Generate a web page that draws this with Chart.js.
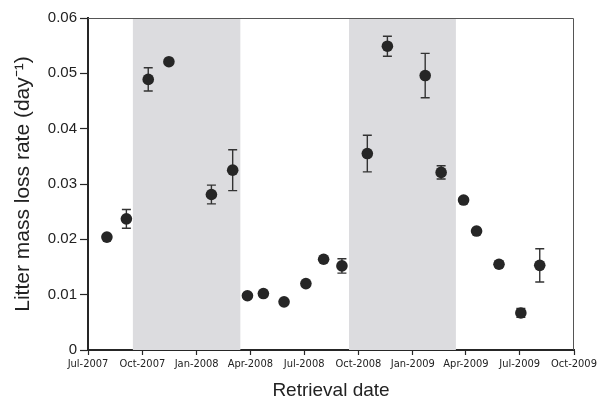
<!DOCTYPE html>
<html>
<head>
<meta charset="utf-8">
<script src="https://cdn.jsdelivr.net/npm/chart.js@4/dist/chart.umd.min.js"></script>
<style>
  html, body { margin: 0; padding: 0; background: #fff; }
  #wrap { width: 598px; height: 402px; }
</style>
</head>
<body>
<div id="wrap"><canvas id="chart-litter" width="598" height="402"></canvas></div>
<script>
/* litter mass loss rate by retrieval date, with seasonal shading */

const RETRIEVAL_DATES = [
  "2007-08-02", "2007-09-04", "2007-10-11", "2007-11-15", "2008-01-26", "2008-03-02",
  "2008-03-27", "2008-04-23", "2008-05-28", "2008-07-04", "2008-08-03", "2008-09-03",
  "2008-10-16", "2008-11-19", "2009-01-22", "2009-02-18", "2009-03-28", "2009-04-19",
  "2009-05-27", "2009-07-03", "2009-08-04",
];
const LOSS_RATE = [
  0.0204, 0.0237, 0.0489, 0.0521, 0.0281, 0.0325,
  0.0098, 0.0102, 0.0087, 0.0120, 0.0164, 0.0152,
  0.0355, 0.0549, 0.0496, 0.0321, 0.0271, 0.0215,
  0.0155, 0.0067, 0.0153,
];
const LOSS_ERR = [
  0.0003, 0.0017, 0.0021, 0.0003, 0.0017, 0.0037,
  0.0003, 0.0003, 0.0003, 0.0003, 0.0004, 0.0013,
  0.0033, 0.0018, 0.0040, 0.0012, 0.0004, 0.0003,
  0.0005, 0.0008, 0.0030,
];
const SHADED_PERIODS = [["2007-09-15", "2008-03-15"], ["2008-09-15", "2009-03-15"]];
const TICK_DATES = [
  "2007-07-01", "2007-10-01", "2008-01-01", "2008-04-01", "2008-07-01",
  "2008-10-01", "2009-01-01", "2009-04-01", "2009-07-01", "2009-10-01",
];
const TICK_LABELS = [
  "Jul-2007", "Oct-2007", "Jan-2008", "Apr-2008", "Jul-2008",
  "Oct-2008", "Jan-2009", "Apr-2009", "Jul-2009", "Oct-2009",
];

const dayNum = (s) => Date.parse(s + "T00:00:00Z") / 86400000;
const INK = "#262626";
const FONT = "'Liberation Sans', Arial, sans-serif";
const NARROW = "'DejaVu Sans Condensed', 'Liberation Sans', Arial, sans-serif";

// grey bands behind the points
const shadePlugin = {
  id: "shade",
  beforeDatasetsDraw(chart) {
    const { ctx, chartArea: a, scales: { x } } = chart;
    ctx.save();
    ctx.fillStyle = "#dcdcdf";
    SHADED_PERIODS.forEach(([s, e]) => {
      const x0 = x.getPixelForValue(dayNum(s));
      const x1 = x.getPixelForValue(dayNum(e));
      ctx.fillRect(x0, a.top, x1 - x0, a.bottom - a.top);
    });
    ctx.restore();
  },
};

// +/- error bars with caps
const errorBarPlugin = {
  id: "errbars",
  beforeDatasetsDraw(chart) {
    const { ctx, scales: { x, y } } = chart;
    ctx.save();
    ctx.strokeStyle = "#333";
    ctx.lineWidth = 1.4;
    RETRIEVAL_DATES.forEach((d, i) => {
      const px = x.getPixelForValue(dayNum(d));
      const top = y.getPixelForValue(LOSS_RATE[i] + LOSS_ERR[i]);
      const bot = y.getPixelForValue(LOSS_RATE[i] - LOSS_ERR[i]);
      ctx.beginPath();
      ctx.moveTo(px, top); ctx.lineTo(px, bot);
      ctx.moveTo(px - 4.5, top); ctx.lineTo(px + 4.5, top);
      ctx.moveTo(px - 4.5, bot); ctx.lineTo(px + 4.5, bot);
      ctx.stroke();
    });
    ctx.restore();
  },
};

// box round the plot: thin top and right edges
const framePlugin = {
  id: "frame",
  afterDatasetsDraw(chart) {
    const { ctx, chartArea: a } = chart;
    ctx.save();
    ctx.strokeStyle = "#555";
    ctx.lineWidth = 1;
    ctx.beginPath();
    ctx.moveTo(a.left, a.top + 0.5); ctx.lineTo(a.right - 0.5, a.top + 0.5); ctx.lineTo(a.right - 0.5, a.bottom);
    ctx.stroke();
    ctx.restore();
  },
};

new Chart(document.getElementById("chart-litter"), {
  type: "scatter",
  data: {
    datasets: [{
      data: RETRIEVAL_DATES.map((d, i) => ({ x: dayNum(d), y: LOSS_RATE[i] })),
      backgroundColor: INK, borderColor: INK, pointRadius: 5.8, pointHoverRadius: 5.8, borderWidth: 0,
    }],
  },
  options: {
    responsive: false, animation: false, devicePixelRatio: 1,
    layout: { padding: { top: 18, right: 24, left: 0, bottom: 0 } },
    plugins: { legend: { display: false }, tooltip: { enabled: false } },
    scales: {
      x: {
        type: "linear", min: dayNum(TICK_DATES[0]), max: dayNum(TICK_DATES[TICK_DATES.length - 1]),
        afterBuildTicks: (s) => { s.ticks = TICK_DATES.map((d) => ({ value: dayNum(d) })); },
        afterFit: (s) => { s.height = 52; s.paddingLeft = 0; s.paddingRight = 0; },
        border: { color: INK, width: 2 },
        grid: { drawOnChartArea: false, tickLength: 5, color: INK, tickWidth: 1.2 },
        ticks: {
          autoSkip: false, maxRotation: 0, padding: 3, color: "#222",
          font: { family: NARROW, size: 11 },
          callback: (v, i) => TICK_LABELS[i],
        },
        title: { display: true, text: "Retrieval date", color: "#222", font: { family: FONT, size: 19 }, padding: { top: 2, bottom: 0 } },
      },
      y: {
        min: 0, max: 0.06,
        afterBuildTicks: (s) => { s.ticks = [0, 0.01, 0.02, 0.03, 0.04, 0.05, 0.06].map((v) => ({ value: v })); },
        afterFit: (s) => { s.width = 88; },
        border: { color: INK, width: 2 },
        grid: { drawOnChartArea: false, tickLength: 8, color: INK, tickWidth: 1.2 },
        ticks: {
          padding: 3, color: "#222", font: { family: FONT, size: 15 },
          callback: (v) => (v === 0 ? "0" : v.toFixed(2)),
        },
        title: { display: true, text: "Litter mass loss rate (day⁻¹)", color: "#222", font: { family: FONT, size: 21 }, padding: { top: 11, bottom: 0 } },
      },
    },
  },
  plugins: [shadePlugin, errorBarPlugin, framePlugin],
});
</script>
</body>
</html>
